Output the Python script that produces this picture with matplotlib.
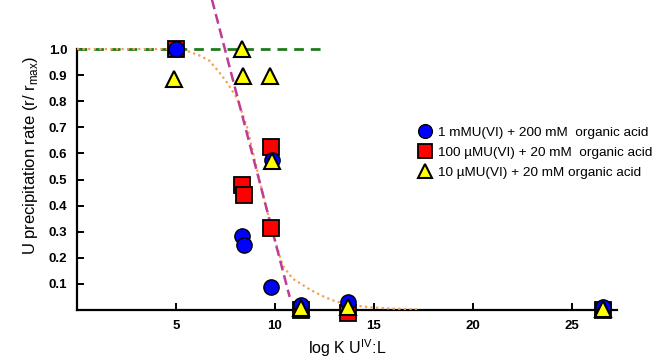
import matplotlib
matplotlib.use("Agg")
import matplotlib.pyplot as plt

# data
blue_x = [5.0, 8.35, 8.45, 9.83, 9.85, 11.3, 13.7, 26.6]
blue_y = [1.0, 0.283, 0.248, 0.089, 0.575, 0.02, 0.032, 0.01]

red_x = [5.0, 8.35, 8.45, 9.8, 9.83, 11.3, 13.7, 26.6]
red_y = [1.0, 0.479, 0.44, 0.626, 0.313, 0.0, -0.01, 0.0]

yel_x = [4.9, 8.32, 8.4, 9.78, 9.88, 11.3, 13.7, 26.6]
yel_y = [0.885, 1.0, 0.895, 0.896, 0.572, 0.006, 0.013, 0.005]

fit_x = [0.0, 5.0, 5.5, 6.2, 6.7, 7.2, 7.6, 8.1, 8.6, 9.0, 9.5, 10.0, 10.4,
         10.9, 11.8, 12.5, 13.1, 14.0, 14.8, 16.0, 17.3]
fit_y = [1.0, 1.0, 0.995, 0.975, 0.955, 0.91, 0.87, 0.81, 0.70, 0.57, 0.41,
         0.27, 0.17, 0.12, 0.077, 0.05, 0.032, 0.018, 0.01, 0.005, 0.002]

slope_x = [6.82, 10.75]
slope_y = [1.19, 0.05]

max_x = [0.0, 12.4]
max_y = [1.0, 1.0]

labels = ["1 mMU(VI) + 200 mM  organic acid",
          "100 \u00b5MU(VI) + 20 mM  organic acid",
          "10 \u00b5MU(VI) + 20 mM organic acid"]

plt.rcParams['font.family'] = ['Liberation Sans', 'DejaVu Sans']

fig = plt.figure(figsize=(6.55, 3.6), dpi=100)
ax = fig.add_axes([0.1176, 0.139, 0.8244, 0.861])

ax.plot(max_x, max_y, color='#1f7a1f', linestyle=(0, (3.5, 2.5)), linewidth=2, zorder=2)
ax.plot(fit_x, fit_y, color='#f0a050', linestyle=(0, (1, 1.5)), linewidth=1.6, zorder=3)
ax.plot(slope_x, slope_y, color='#c03a96', linestyle=(0, (4, 2)), linewidth=1.8, zorder=3)

ms = 11
h_red, = ax.plot(red_x, red_y, 's', color='#ff0000', markeredgecolor='black',
                 markeredgewidth=1.3, markersize=ms + 0.5, clip_on=False, zorder=4)
h_blue, = ax.plot(blue_x, blue_y, 'o', color='#0000ff', markeredgecolor='black',
                  markeredgewidth=1.0, markersize=ms, clip_on=False, zorder=5)
h_yel, = ax.plot(yel_x, yel_y, '^', color='#ffff00', markeredgecolor='black',
                 markeredgewidth=1.5, markersize=ms, clip_on=False, zorder=6)

ax.set_xlim(0, 27.3)
ax.set_ylim(0, 1.188)
ax.spines['top'].set_visible(False)
ax.spines['right'].set_visible(False)
ax.spines['left'].set_bounds(0, 1.0)
ax.spines['left'].set_linewidth(1.6)
ax.spines['bottom'].set_linewidth(1.6)

ax.set_xticks([5, 10, 15, 20, 25])
ax.set_yticks([0.1, 0.2, 0.3, 0.4, 0.5, 0.6, 0.7, 0.8, 0.9, 1.0])
ax.set_yticklabels(["0.1", "0.2", "0.3", "0.4", "0.5", "0.6", "0.7", "0.8", "0.9", "1.0"])
ax.tick_params(direction='in', length=5, width=1.4, labelsize=9.5, pad=7)
for t in ax.get_xticklabels() + ax.get_yticklabels():
    t.set_fontweight('bold')

ax.set_xlabel("log K U$^{\\mathregular{IV}}$:L", fontsize=11.5, labelpad=4)
ax.set_ylabel("U precipitation rate (r/ r$_{\\mathregular{max}}$)", fontsize=12, labelpad=6)

ax.legend([h_blue, h_red, h_yel], labels, loc='upper left',
          bbox_to_anchor=(0.628, 0.667), bbox_transform=fig.transFigure,
          frameon=False, fontsize=9.7, handlelength=1.0, handletextpad=0.5,
          labelspacing=0.55, borderpad=0, markerscale=0.9)

fig.savefig("out.png", dpi=100)
